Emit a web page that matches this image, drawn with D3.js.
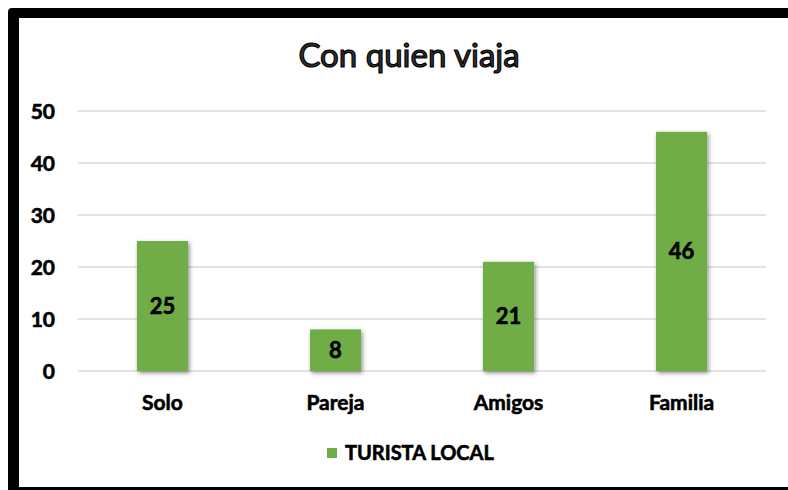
<!DOCTYPE html>
<html>
<head>
<meta charset="utf-8">
<script src="https://cdn.jsdelivr.net/npm/d3@7"></script>
<style>
  html, body { margin: 0; padding: 0; background: #fff; }
  svg { display: block; }
</style>
</head>
<body>
<svg id="chart" width="788" height="490"></svg>
<script>
const categories = ["Solo", "Pareja", "Amigos", "Familia"];
const values = [25, 8, 21, 46];
const yTicks = [0, 10, 20, 30, 40, 50];
const seriesName = "TURISTA LOCAL";

const width = 788, height = 490;
const svg = d3.select("#chart");
const font = "Lato, 'Open Sans', sans-serif";

// frame: thick top/left, thin bottom
svg.append("path")
    .attr("d", "M8,490 L8,12 Q8,8 12,8 L788,8 L788,18 L19,18 L19,490 Z")
    .attr("fill", "#000");
svg.append("rect").attr("x", 8).attr("y", 487).attr("width", 780).attr("height", 3).attr("fill", "#000");

const defs = svg.append("defs");
const shadow = defs.append("filter").attr("id", "shadow")
    .attr("x", "-20%").attr("y", "-10%").attr("width", "150%").attr("height", "130%");
shadow.append("feDropShadow")
    .attr("dx", 1.5).attr("dy", 2).attr("stdDeviation", 2)
    .attr("flood-color", "#000").attr("flood-opacity", 0.45);

const x = d3.scaleBand()
    .domain(categories)
    .range([76, 768])
    .paddingInner(0.705)
    .paddingOuter(0.352);

const y = d3.scaleLinear()
    .domain([0, 50])
    .range([371, 111]);

// bold text helper, slightly heavier than plain bold
function heavy(sel, size) {
    sel.attr("font-family", font)
        .attr("font-weight", "bold")
        .attr("font-size", size)
        .attr("fill", "#000")
        .attr("stroke", "#000")
        .attr("stroke-width", 0.6);
}

// gridlines
svg.append("g")
    .selectAll("line")
    .data(yTicks)
    .join("line")
    .attr("x1", 78)
    .attr("x2", 766)
    .attr("y1", d => y(d))
    .attr("y2", d => y(d))
    .attr("stroke", "#d9d9d9")
    .attr("stroke-width", 1.5);

// y tick labels
svg.append("g")
    .selectAll("text")
    .data(yTicks)
    .join("text")
    .attr("x", 55)
    .attr("y", d => y(d))
    .attr("dy", "0.36em")
    .attr("text-anchor", "end")
    .call(heavy, 21)
    .text(d => d);

// bars
svg.append("g")
    .selectAll("rect")
    .data(values)
    .join("rect")
    .attr("x", (d, i) => x(categories[i]))
    .attr("y", d => y(d))
    .attr("width", x.bandwidth())
    .attr("height", d => y(0) - y(d))
    .attr("fill", "#70ad47")
    .attr("filter", "url(#shadow)");

// value labels
svg.append("g")
    .selectAll("text")
    .data(values)
    .join("text")
    .attr("x", (d, i) => x(categories[i]) + x.bandwidth() / 2)
    .attr("y", d => (y(d) + y(0)) / 2)
    .attr("dy", "0.36em")
    .attr("text-anchor", "middle")
    .call(heavy, 22)
    .text(d => d);

// category labels
svg.append("g")
    .selectAll("text")
    .data(categories)
    .join("text")
    .attr("x", d => x(d) + x.bandwidth() / 2)
    .attr("y", 402)
    .attr("dy", "0.36em")
    .attr("text-anchor", "middle")
    .call(heavy, 21)
    .text(d => d);

// title
svg.append("text")
    .attr("x", 409)
    .attr("y", 55)
    .attr("dy", "0.36em")
    .attr("text-anchor", "middle")
    .attr("font-family", font)
    .attr("font-size", 33)
    .attr("fill", "#333")
    .attr("stroke", "#000")
    .attr("stroke-width", 1.2)
    .text("Con quien viaja");

// legend
const legend = svg.append("g").attr("transform", "translate(327,453)");
legend.append("rect")
    .attr("x", 0).attr("y", -5)
    .attr("width", 10).attr("height", 10)
    .attr("fill", "#70ad47");
legend.append("text")
    .attr("x", 18)
    .attr("dy", "0.36em")
    .call(heavy, 20)
    .text(seriesName);
</script>
</body>
</html>
